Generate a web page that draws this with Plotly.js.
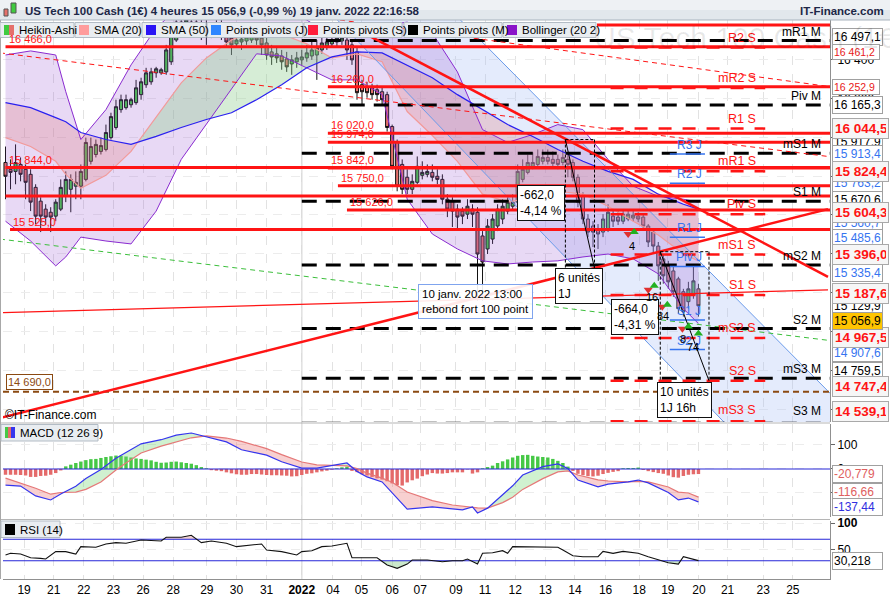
<!DOCTYPE html>
<html>
<head>
<meta charset="utf-8">
<script src="https://cdn.plot.ly/plotly-3.0.1.min.js"></script>
<style>
  html, body { margin: 0; padding: 0; background: #fff; }
  #chart { width: 890px; height: 600px; }
</style>
</head>
<body>
<div id="chart"></div>
<script>
// Heikin-Ashi 4h candles, one slot per candle (17 dec. 2021 -> 19 janv. 2022)
const haOpen = [15870,15835,15824,15860,15835,15809,15742,15671,15630,15614,
  15594,15630,15696,15732,15748,15748,15783,15876,15911,15927,
  15937,15998,16050,16142,16152,16167,16178,16219,16270,16285,
  16331,16331,16336,16388,16500,16551,16577,16592,16562,16582,
  16562,16536,16551,16567,16541,16510,16480,16490,16495,16500,
  16526,16510,16485,16439,16429,16418,16403,16377,16388,16398,
  16408,16418,16423,16449,16469,16480,16490,16495,16500,16475,
  16439,16270,16260,16254,16244,16234,16219,16055,15973,15860,
  15794,15732,15768,15804,15809,15819,15799,15783,15681,15671,
  15630,15620,15604,15630,15614,15492,15425,15476,15543,15579,
  15620,15645,15666,15783,15819,15850,15860,15876,15896,15886,
  15886,15870,15886,15870,15794,15696,15579,15543,15527,15512,
  15527,15594,15589,15568,15579,15584,15594,15589,15543,15512,
  15440,15374,15338,15312,15271,15205,15154,15189,15220];
const haHigh = [15952,15886,15963,15896,15860,15835,15758,15691,15655,15640,
  15681,15783,15824,15809,15824,15860,15998,15998,15988,15998,
  16065,16126,16193,16219,16219,16203,16295,16306,16357,16357,
  16362,16357,16475,16577,16613,16628,16644,16628,16628,16613,
  16603,16592,16613,16603,16577,16551,16526,16526,16541,16562,
  16562,16551,16521,16475,16459,16449,16439,16423,16439,16449,
  16475,16490,16500,16521,16526,16536,16551,16541,16521,16500,
  16459,16295,16285,16275,16270,16254,16234,16065,15988,15886,
  15835,15809,15901,15876,15860,15860,15835,15809,15707,15691,
  15655,15640,15681,15655,15640,15517,15579,15604,15655,15681,
  15691,15707,15860,15886,15911,15922,15937,15937,15937,15927,
  15911,15937,15911,15886,15809,15717,15604,15568,15553,15604,
  15655,15630,15620,15630,15630,15620,15614,15604,15553,15527,
  15461,15399,15364,15333,15282,15220,15256,15338,15246];
const haLow = [15681,15732,15758,15773,15681,15620,15553,15512,15548,15512,
  15568,15620,15666,15614,15681,15681,15773,15860,15896,15911,
  15927,15988,16039,16126,16142,16152,16167,16193,16254,16270,
  16306,16321,16321,16372,16490,16536,16551,16526,16541,16500,
  16475,16510,16526,16500,16459,16423,16464,16449,16475,16485,
  16475,16423,16398,16372,16382,16347,16336,16321,16357,16372,
  16388,16398,16295,16429,16449,16459,16469,16475,16398,16372,
  16193,16167,16203,16193,16183,16167,16029,15835,15722,15707,
  15707,15707,15758,15783,15794,15773,15758,15655,15589,15538,
  15527,15553,15579,15538,15159,15159,15399,15451,15517,15553,
  15604,15630,15655,15768,15809,15835,15845,15860,15860,15845,
  15835,15855,15794,15773,15640,15553,15486,15435,15425,15486,
  15512,15538,15548,15553,15568,15568,15563,15527,15435,15399,
  15261,15246,15220,15179,15092,15077,15118,15169,15077];
const haClose = [15799,15819,15870,15809,15768,15666,15594,15594,15589,15589,
  15666,15742,15783,15783,15768,15824,15973,15952,15963,15957,
  16024,16106,16157,16193,16193,16193,16254,16285,16331,16336,
  16352,16347,16449,16551,16592,16592,16603,16562,16592,16551,
  16531,16562,16577,16536,16490,16475,16500,16505,16516,16531,
  16500,16475,16423,16413,16408,16388,16362,16398,16408,16413,
  16434,16449,16464,16485,16490,16500,16510,16510,16449,16398,
  16229,16234,16229,16219,16219,16193,16050,15850,15748,15732,
  15732,15773,15850,15819,15824,15794,15783,15681,15630,15620,
  15589,15594,15645,15604,15399,15358,15543,15579,15630,15645,
  15666,15666,15824,15835,15870,15870,15901,15896,15876,15865,
  15860,15896,15860,15794,15666,15579,15512,15512,15502,15579,
  15614,15568,15568,15604,15604,15599,15579,15543,15461,15440,
  15338,15287,15256,15205,15118,15102,15220,15261,15133];

// day labels on the trading-time axis
const dayTickPos = [3.7,9.6,15.6,21.5,27.4,33.4,40.1,46.0,52.0,59.0,65.2,70.9,77.0,82.6,
  89.7,95.5,101.5,107.5,113.4,119.5,126.2,131.9,138.1,143.8,150.9,156.8];
const dayTickText = ['19','21','22','23','26','28','29','30','31','<b>2022</b>','04','05','06','07',
  '09','11','12','13','14','16','18','19','20','21','23','25'];

// SMA (20), SMA (50), Bollinger (20 2), read every few candles
const maX = [0,5,10,12,15,20,25,30,35,40,45,50,55,60,65,70,75,80,85,90,95,100,105,110,115,120,125,130,135,138];
const bbUpper = [16423,16444,16423,16234,15988,16142,16372,16562,16679,16756,16782,16674,16644,16603,16521,
  16562,16577,16592,16536,16336,16039,15973,16014,16065,16039,15886,15748,15696,15681,15666];
const bbLower = [15568,15466,15338,15384,15486,15466,15451,15620,15886,16065,16244,16429,16418,16357,16295,
  16295,16219,15681,15502,15425,15364,15348,15358,15364,15384,15399,15374,15297,15118,15041];
const sma20 = [15998,15952,15876,15809,15737,15804,15927,16101,16280,16408,16500,16551,16531,16480,16408,
  16429,16388,16132,16009,15876,15707,15666,15691,15722,15707,15645,15568,15497,15399,15364];
const sma50 = [16178,16152,16101,16080,16024,15988,15963,16004,16050,16091,16126,16193,16270,16357,16413,
  16439,16434,16372,16306,16219,16142,16065,16004,15937,15876,15824,15783,15707,15655,15630];

// MACD (12 26 9)
const macdHist = [-24,-24,-24,-25,-27,-33,-33,-29,-28,-24,
  -17,-6,11,18,25,31,37,41,42,46,
  50,53,56,55,52,48,44,42,39,36,
  30,26,27,30,31,28,25,22,16,8,
  3,-5,-7,-9,-14,-18,-22,-24,-24,-21,
  -21,-23,-25,-26,-26,-27,-28,-31,-30,-25,
  -20,-18,-14,-10,-7,-3,3,7,10,-8,
  -13,-22,-27,-33,-39,-44,-51,-60,-68,-69,
  -56,-47,-40,-30,-23,-17,-19,-19,-17,-14,
  -14,-14,-2,-19,-14,3,8,14,25,32,
  40,48,55,58,59,55,52,50,48,42,
  34,25,10,-8,-20,-26,-30,-31,-28,-21,
  -16,-12,-9,3,4,4,6,-4,-9,-13,
  -17,-20,-27,-34,-36,-29,-24,-22,-21];
const macdX = [0,3,6,9,11,14,16,19,22,24,27,31,34,37,40,44,47,52,55,59,62,65,68,70,72,75,77,80,85,89,
  91,93,94,96,99,101,103,107,110,112,114,118,120,124,126,128,132,134,136,138];
const macdLine = [-67,-71,-112,-129,-104,-72,-40,-2,45,70,105,122,141,150,134,113,80,58,30,4,
  4,13,25,-10,-33,-54,-100,-167,-158,-165,-170,-158,-183,-163,-105,-70,-25,10,21,2,
  -46,-74,-63,-54,-46,-58,-98,-129,-121,-137];
const macdSignal = [-38,-58,-80,-105,-98,-96,-85,-54,-4,25,67,95,112,130,138,129,115,85,60,29,
  17,14,13,2,-17,-38,-55,-96,-132,-150,-156,-161,-162,-163,-140,-118,-85,-40,-12,-8,
  -25,-45,-50,-54,-52,-54,-75,-96,-100,-117];

// RSI (14)
const rsiX = [0,1,3,5,7,8,10,12,14,15,18,19,20,22,24,27,29,31,32,35,37,39,41,44,46,48,51,52,55,58,
  59,61,63,65,68,69,74,76,78,80,81,84,87,89,91,92,94,95,97,99,100,101,104,106,110,111,113,115,118,119,
  121,123,126,128,130,132,134,135,138];
const rsiVal = [40.7,43.8,42.5,35.6,34.4,33.2,46.9,46.9,42.5,56.2,55,57.5,61.2,63.7,62.5,68.7,67.5,66.8,73.7,73.7,
  77.4,63.7,66.8,62.5,56.2,58.7,61.2,50,46.9,40.7,46.9,48.7,56.2,57.5,62.5,35.6,35.6,22,15.8,23.8,
  31.3,31.3,28.2,30,30,33.2,23.8,43.8,45,48.7,43.8,56.2,56.2,56.2,55,50,39.4,37.5,37.5,47.5,
  43.8,47.5,43.8,37.5,31.3,26.3,23.8,37.5,30.2];

// pivot points
const pivMonthly = [16497.1,16165.3,15917.9,15670.6,15343.0,15015.3,14759.5,14528.0];
const pivMonthlyNames = ['mR1 M','Piv M','mS1 M','S1 M','mS2 M','S2 M','mS3 M','S3 M'];
const pivWeekly = [16461.2,16252.9,16044.5,15824.4,15604.3,15396.0,15187.6,14967.5,14747.4,14539.1];
const pivWeeklyNames = ['R2 S','mR2 S','R1 S','mR1 S','Piv S','mS1 S','S1 S','mS2 S','S2 S','mS3 S'];
const pivDaily = [15913.4,15763.2,15485.6,15335.4,15060.0,14907.6];
const pivDailyNames = ['R3 J','R2 J','R1 J','Piv J','S1 J','S2 J'];

// hand-drawn horizontal levels
const levelValues = [16577,16466,16260,16020,15974,15844,15842,15750,15698,15626,15525];
const levelStart = [117.8,0,64.2,64.2,64.2,0,64.2,66.2,0,68.0,0.9];
const levelLabels = ['','16 466,0','16 260,0','16 020,0','15 974,0','15 844,0','15 842,0','15 750,0','','15 626,0','15 525,0'];
const supportLevel = 14690;

// hand-drawn trend lines (slot, price)
const trendRiseX = [-1.1,163.8], trendRiseY = [14555,15630];
const trendFallX = [67.6,163.8], trendFallY = [16587,15282];
const trendThinX = [-1.1,163.8], trendThinY = [15097,15215];
const trendDashAX = [-1.1,163.8], trendDashAY = [16434,15901];
const trendDashBX = [66.6,164.2], trendDashBY = [16603,16260];
const greenDashX = [-1.1,164.2], greenDashY = [15476,14954];
const channelLowX = [66.1,170], channelLowY = [16603,13811];
const channelHighX = [90.6,170], channelHighY = [16603,14532];

// measuring tool
const measureX0 = [111.5,130.4], measureX1 = [117.3,140.1];
const measureTop = [15988,15411], measureMove = [-662,-664];

// trading signals
const sigDownX = [124,128,130.8,134.8], sigDownY = [15502,15215,15128,15015];
const sigUpX = [125.2,129.2,131.8,136,138], sigUpY = [15512,15236,15138,15026,14990];

// ---------------------------------------------------------------
const PL = 3, PR = 830, PT = 20, PB = 579;
const PX = v => (v - PL) / (PR - PL);
const PY = v => (PB - v) / (PB - PT);
const FONT = 'Liberation Sans, Arial, sans-serif';
const RED = '#ff1414', BLUE = '#3574f0';
const X0 = -0.5, X1 = 164.2, Y0 = 14535, Y1 = 16603;
const slots = haOpen.map((_, i) => i);

const traces = [], shapes = [], ann = [];

function splitFill(x, a, b) {
  const out = [];
  let cur = null;
  for (let k = 0; k < x.length; k++) {
    const d = a[k] - b[k];
    const pos = d >= 0;
    if (cur && pos !== cur.pos) {
      const d0 = a[k - 1] - b[k - 1];
      const t = d0 / (d0 - d);
      const xc = x[k - 1] + t * (x[k] - x[k - 1]);
      const yc = a[k - 1] + t * (a[k] - a[k - 1]);
      cur.xs.push(xc); cur.ta.push(yc); cur.tb.push(yc);
      out.push(cur);
      cur = {pos, xs: [xc], ta: [yc], tb: [yc]};
    }
    if (!cur) cur = {pos, xs: [], ta: [], tb: []};
    cur.xs.push(x[k]); cur.ta.push(a[k]); cur.tb.push(b[k]);
  }
  if (cur) out.push(cur);
  return out.map(s => ({pos: s.pos, x: s.xs.concat(s.xs.slice().reverse()), y: s.ta.concat(s.tb.slice().reverse())}));
}

function area(x, y, color, yaxis) {
  traces.push({type: 'scatter', mode: 'lines', x, y, fill: 'toself', fillcolor: color,
    line: {width: 0}, hoverinfo: 'skip', yaxis: yaxis || 'y'});
}
function line(x, y, color, width, dash, yaxis) {
  traces.push({type: 'scatter', mode: 'lines', x, y, line: {color, width, dash: dash || 'solid'},
    hoverinfo: 'skip', yaxis: yaxis || 'y'});
}

// ---- main panel ----
area(channelLowX.concat(channelHighX.slice().reverse()), channelLowY.concat(channelHighY.slice().reverse()), 'rgba(165,190,245,0.3)');
area(maX.concat(maX.slice().reverse()), bbUpper.concat(bbLower.slice().reverse()), 'rgba(150,80,210,0.22)');
splitFill(maX, sma20, sma50).forEach(s => area(s.x, s.y, s.pos ? 'rgba(140,205,140,0.36)' : 'rgba(228,125,125,0.28)'));
line(maX, bbUpper, '#8a2bd0', 1);
line(maX, bbLower, '#8a2bd0', 1);
line(maX, sma20, '#f29a9a', 1.2);
line(maX, sma50, '#2a20f0', 1.2);
line(channelLowX, channelLowY, '#6b9bea', 1);
line(channelHighX, channelHighY, '#6b9bea', 1);
line(greenDashX, greenDashY, '#3cbf3c', 1, '5px,4px');

traces.push({
  type: 'candlestick', x: slots, open: haOpen, high: haHigh, low: haLow, close: haClose,
  increasing: {line: {color: '#111', width: 1}, fillcolor: '#3fcb3f'},
  decreasing: {line: {color: '#111', width: 1}, fillcolor: '#e5706b'},
  whiskerwidth: 0, hoverinfo: 'skip'
});

// monthly pivots (black dashes), weekly (red dashes), daily (blue)
pivMonthly.forEach(v => line([59.0, X1], [v, v], '#000', 3, '15px,9px'));
pivWeekly.forEach(v => line([120.5, 151.3], [v, v], RED, 2.5, '13px,11px'));
pivDaily.forEach(v => line([132.3, 139.3], [v, v], BLUE, 1.5));
levelValues.forEach((v, k) => line([levelStart[k], X1], [v, v], RED, 3));
line([X0, X1], [supportLevel, supportLevel], '#8b4a12', 2, '6px,4px');
line(trendRiseX, trendRiseY, RED, 2.5);
line(trendFallX, trendFallY, RED, 2.5);
line(trendThinX, trendThinY, RED, 1.2);
line(trendDashAX, trendDashAY, RED, 1, '5px,4px');
line(trendDashBX, trendDashBY, RED, 1, '5px,4px');

measureX0.forEach((a, k) => {
  const b = measureX1[k], top = measureTop[k], bot = measureTop[k] + measureMove[k];
  line([a, a], [top, bot], '#000', 1, '3px,2px');
  line([b, b], [top, bot], '#000', 1, '3px,2px');
  line([a, b], [top, top], '#000', 1, '3px,2px');
  line([a, b], [top, bot], '#000', 1);
});

traces.push({type: 'scatter', mode: 'markers', x: sigDownX, y: sigDownY, hoverinfo: 'skip',
  marker: {symbol: 'triangle-down', size: 8, color: '#e03030'}});
traces.push({type: 'scatter', mode: 'markers', x: sigUpX, y: sigUpY, hoverinfo: 'skip',
  marker: {symbol: 'triangle-up', size: 8, color: '#22b022'}});

// ---- MACD panel ----
splitFill(macdX, macdLine, macdSignal).forEach(s => area(s.x, s.y, s.pos ? 'rgba(120,215,120,0.35)' : 'rgba(235,120,120,0.35)', 'y2'));
traces.push({type: 'bar', x: slots, y: macdHist, yaxis: 'y2', width: 0.68, hoverinfo: 'skip',
  marker: {color: macdHist.map(v => v >= 0 ? '#46c846' : '#e46a6a'), line: {width: 0}}});
line([X0, X1], [0, 0], '#2626d8', 1.2, 'solid', 'y2');
line(macdX, macdSignal, '#e57878', 1.2, 'solid', 'y2');
line(macdX, macdLine, '#3535ee', 1.2, 'solid', 'y2');

// ---- RSI panel ----
const lv70 = rsiX.map(() => 70), lv30 = rsiX.map(() => 30);
splitFill(rsiX, rsiVal, lv70).filter(s => s.pos).forEach(s => area(s.x, s.y, 'rgba(225,150,150,0.45)', 'y3'));
splitFill(rsiX, lv30, rsiVal).filter(s => s.pos).forEach(s => area(s.x, s.y, 'rgba(140,205,140,0.45)', 'y3'));
line([X0, X1], [70, 70], '#2626d8', 1.2, 'solid', 'y3');
line([X0, X1], [30, 30], '#2626d8', 1.2, 'solid', 'y3');
line(rsiX, rsiVal, '#111', 1.1, 'solid', 'y3');

// ---- labels on the chart ----
function txt(x, y, text, opts) {
  ann.push(Object.assign({x, y, text, showarrow: false, xref: 'x', yref: 'y',
    font: {family: FONT, size: 11, color: '#000'}}, opts || {}));
}
levelValues.forEach((v, k) => {
  if (levelLabels[k]) txt(levelStart[k] + 0.2, v, levelLabels[k],
    {xanchor: 'left', yanchor: 'bottom', yshift: 0, font: {family: FONT, size: 11, color: RED}});
});
pivMonthly.forEach((v, k) => txt(PX(823), Math.max(v, Y0 + 12), pivMonthlyNames[k],
  {xref: 'paper', xanchor: 'right', yanchor: 'bottom', font: {family: FONT, size: 12, color: '#000'}}));
pivWeekly.forEach((v, k) => txt(149.9, Math.max(v, Y0 + 12), pivWeeklyNames[k],
  {xanchor: 'right', yanchor: 'bottom', yshift: 1, font: {family: FONT, size: 12.5, color: RED}}));
pivDaily.forEach((v, k) => txt(136.2, v, pivDailyNames[k],
  {xanchor: 'center', yanchor: 'bottom', font: {family: FONT, size: 12, color: BLUE}}));
txt(0, supportLevel, '14 690,0', {xanchor: 'left', yanchor: 'bottom', yshift: 2, bgcolor: '#fff',
  bordercolor: '#8b4a12', borderwidth: 1, borderpad: 1, font: {family: FONT, size: 11, color: '#8b4a12'}});

const boxStyle = {bgcolor: '#fff', bordercolor: '#111', borderwidth: 1, borderpad: 2, align: 'left',
  font: {family: FONT, size: 12, color: '#000'}};
txt(106.7, 15662, '-662,0<br>-4,14 %', boxStyle);
txt(114.2, 15235, '6 unités<br>1J', boxStyle);
txt(125.4, 15075, '-664,0<br>-4,31 %', boxStyle);
txt(135.2, 14648, '10 unités<br>1J 16h', boxStyle);
txt(93.5, 15157, '10 janv. 2022 13:00<br>rebond fort 100 point',
  {bgcolor: 'rgba(255,255,255,0.9)', bordercolor: '#7fa4ee', borderwidth: 1, borderpad: 3, align: 'left',
   font: {family: FONT, size: 11.5, color: '#000'}});
[['4', 124.8, 15440], ['16', 128.8, 15179], ['84', 131.0, 15082], ['8', 135.0, 14964], ['74', 137.0, 14923]]
  .forEach(s => txt(s[1], s[2], s[0], {font: {family: FONT, size: 11, color: '#000'}}));

// price boxes on the right axis: text, value, colour, kind, nudge px
const rightBoxes = [
  ['16 497,1', 16497.1, '#000', 'n', 4], ['16 252,9', 16252.9, '#e81818', 's', 1],
  ['16 461,2', 16461.2, '#e81818', 's', -4], ['16 165,3', 16165.3, '#000', 'n', 0],
  ['15 917,9', 15917.9, '#000', 'n', 11], ['15 913,4', 15913.4, BLUE, 'n', 0],
  ['15 763,2', 15763.2, BLUE, 'n', 0], ['15 670,6', 15670.6, '#000', 'n', 1],
  ['15 560,7', 15560.7, BLUE, 'n', 0], ['15 485,6', 15485.6, BLUE, 'n', -1],
  ['15 335,4', 15335.4, BLUE, 'n', -7], ['15 129,9', 15129.9, '#000', 'n', 0],
  ['14 907,6', 14907.6, BLUE, 'n', -3], ['14 759,5', 14759.5, '#000', 'n', 7],
  ['16 044,5', 16044.5, RED, 'b', 0], ['15 824,4', 15824.4, RED, 'b', 0],
  ['15 604,3', 15604.3, RED, 'b', 2], ['15 396,0', 15396.0, RED, 'b', 0],
  ['15 187,6', 15187.6, RED, 'b', 2], ['14 967,5', 14967.5, RED, 'b', 0],
  ['14 747,4', 14747.4, RED, 'b', -6], ['14 539,1', 14539.1, RED, 'b', 10],
  ['15 056,9', 15056.9, '#000', 'c', 0]
];
rightBoxes.forEach(b => {
  const bold = b[3] === 'b';
  ann.push({xref: 'paper', yref: 'y', x: PX(832), y: b[1], xanchor: 'left', yanchor: 'middle', yshift: b[4],
    text: bold ? '<b>' + b[0] + '</b>' : b[0], showarrow: false, align: 'left',
    width: bold ? 51 : (b[3] === 's' ? 44 : 47),
    bgcolor: b[3] === 'c' ? '#ffc400' : (bold ? '#f6f6f6' : '#fff'),
    bordercolor: bold ? '#a9a9a9' : '#a0a0a0', borderwidth: 1, borderpad: bold ? 2 : 1,
    font: {family: FONT, size: bold ? 13.5 : (b[3] === 's' ? 10.5 : 12), color: b[2]}});
});
[['-20,779', -20.779, '#e06060', 0, 'y2'], ['-116,66', -116.66, '#e06060', 5, 'y2'],
 ['-137,44', -137.44, '#3030e0', -5, 'y2'], ['30,218', 30.218, '#000', 0, 'y3']].forEach(b => {
  ann.push({xref: 'paper', yref: b[4], x: PX(832), y: b[1], xanchor: 'left', yanchor: 'middle', yshift: b[3],
    text: b[0], showarrow: false, bgcolor: '#fff', bordercolor: '#a0a0a0', borderwidth: 1, borderpad: 1,
    align: 'left', width: 47, font: {family: FONT, size: 12, color: b[2]}});
});

// ---- frame, title bar, legend ----
function rect(x0, y0, x1, y1, fill, border) {
  shapes.push({type: 'rect', xref: 'paper', yref: 'paper', x0: PX(x0), x1: PX(x1), y0: PY(y1), y1: PY(y0),
    fillcolor: fill, line: {color: border || fill, width: border ? 1 : 0}, layer: 'above'});
}
function hseg(x0, x1, y, color) {
  shapes.push({type: 'line', xref: 'paper', yref: 'paper', x0: PX(x0), x1: PX(x1), y0: PY(y), y1: PY(y),
    line: {color, width: 1}, layer: 'above'});
}
function ptext(x, y, text, size, color, anchor, bold) {
  ann.push({xref: 'paper', yref: 'paper', x: PX(x), y: PY(y), xanchor: anchor || 'left', yanchor: 'middle',
    text: bold ? '<b>' + text + '</b>' : text, showarrow: false, font: {family: FONT, size, color}});
}
shapes.push({type: 'line', xref: 'x', yref: 'paper', x0: 59.0, x1: 59.0, y0: 0, y1: 1,
  line: {color: '#dcdcdc', width: 1.5}, layer: 'below'});
hseg(0, 830, 423, '#b5b5b5');
hseg(0, 830, 519.5, '#b5b5b5');
shapes.push({type: 'line', xref: 'paper', yref: 'paper', x0: PX(0.5), x1: PX(0.5), y0: PY(579), y1: PY(20),
  line: {color: '#a8a8a8', width: 1}, layer: 'above'});

rect(0, 0, 890, 10, '#eef1f4');
rect(0, 10, 890, 20, '#e2e7ec');
hseg(-3, 890, 20, '#a9b3be');
rect(4, 9, 8, 16, '#e5706b', '#555');
rect(11, 3, 16, 13, '#3fcb3f', '#555');
ptext(23, 11, 'US Tech 100 Cash (1€) 4 heures 15 056,9 (-0,99 %) 19 janv. 2022 22:16:58', 11.5, '#1d2747', 'left', true);
ptext(886, 11, 'IT-Finance.com', 11.5, '#1d2747', 'right', true);

const legendItems = [
  ['Heikin-Ashi', 0, 74, ['#3fcb3f', '#e5706b']], ['SMA (20)', 75, 140, ['#ff9c9c']],
  ['SMA (50)', 142, 206, ['#2a14f5']], ['Points pivots (J)', 207, 303, ['#2f86ff']],
  ['Points pivots (S)', 304, 402, ['#ff1e3c']], ['Points pivots (M)', 404, 502, ['#000']],
  ['Bollinger (20 2)', 503, 596, ['#8a12c8']]
];
legendItems.forEach(it => {
  rect(it[1], 22.5, it[2], 37.5, '#e9edf1', '#b3bcc5');
  if (it[3].length === 2) { rect(it[1] + 4, 25, it[1] + 9, 35, it[3][0]); rect(it[1] + 9, 25, it[1] + 14, 35, it[3][1]); }
  else rect(it[1] + 4, 25, it[1] + 14, 35, it[3][0]);
  ptext(it[1] + 17, 30.5, it[0], 11.5, '#000');
});

rect(1, 424.5, 98, 441, '#e9edf1', '#b3bcc5');
rect(5, 427, 8, 438, '#46c846'); rect(8, 427, 11, 438, '#e46a6a'); rect(11, 427, 15, 438, '#3535ee');
ptext(18, 433, 'MACD (12 26 9)', 11.5, '#000');
rect(1, 521, 60, 537.5, '#e9edf1', '#b3bcc5');
rect(5, 524, 15, 535, '#000');
ptext(18, 529.5, 'RSI (14)', 11.5, '#000');

ptext(592, 38, 'US Tech 100 Cash (1€)', 30, 'rgba(0,0,0,0.09)', 'left');
ptext(3, 415, '©IT-Finance.com', 12, '#000', 'left');

const mainTicks = [14600,14800,15000,15200,15400,15600,15800,16000,16200,16400];
const fmt = v => String(v).replace(/\B(?=(\d{3})+(?!\d))/g, ' ');

const yCommon = {side: 'right', showline: true, linecolor: '#909090', zeroline: false, ticks: 'outside',
  ticklen: 4, tickcolor: '#666', showgrid: true, gridcolor: '#ececec', griddash: 'dash',
  tickfont: {family: FONT, size: 12, color: '#000'}, fixedrange: true};

const layout = {
  width: 890, height: 600,
  margin: {l: 3, r: 60, t: 20, b: 21, pad: 0},
  paper_bgcolor: '#fff', plot_bgcolor: '#fff',
  font: {family: FONT, size: 11, color: '#000'},
  showlegend: false, boxgap: 0.12,
  xaxis: {range: [X0, X1], anchor: 'y3', tickvals: dayTickPos, ticktext: dayTickText, ticks: '',
    tickfont: {family: FONT, size: 12, color: '#000'}, showgrid: true, gridcolor: '#e2e2e2', griddash: 'dash',
    zeroline: false, showline: true, linecolor: '#909090', rangeslider: {visible: false}, fixedrange: true},
  yaxis: Object.assign({}, yCommon, {domain: [0.2809, 1], range: [Y0, Y1], tickvals: mainTicks,
    ticktext: mainTicks.map(fmt)}),
  yaxis2: Object.assign({}, yCommon, {domain: [0.1109, 0.2773], range: [-200, 187.5], tickvals: [100, 0, -100],
    ticktext: ['100', '0', '-100']}),
  yaxis3: Object.assign({}, yCommon, {domain: [0, 0.1038], range: [-4, 104], tickvals: [50, 100],
    ticktext: ['50', '<b>100</b>']}),
  shapes, annotations: ann
};

Plotly.newPlot('chart', traces, layout, {displayModeBar: false, staticPlot: true});
</script>
</body>
</html>
